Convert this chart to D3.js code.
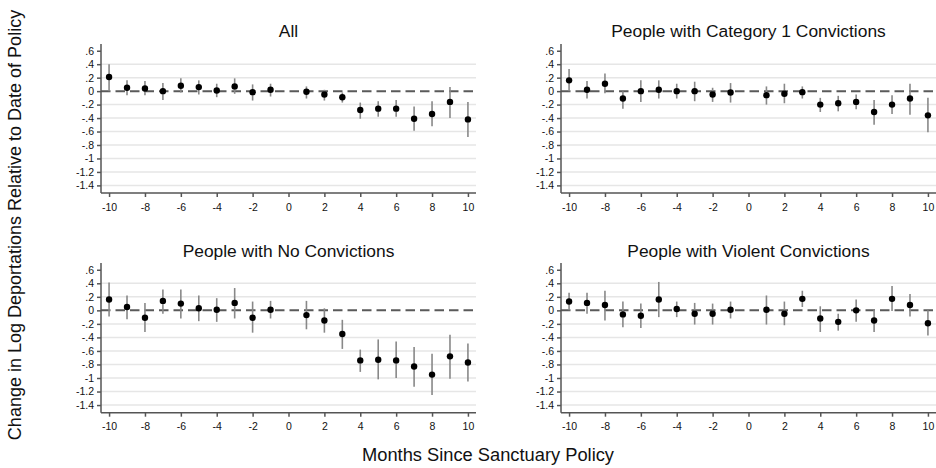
<!DOCTYPE html>
<html>
<head>
<meta charset="utf-8">
<script src="https://cdn.jsdelivr.net/npm/d3@7"></script>
<style>
  body { margin: 0; background: #fff; }
  svg { display: block; font-family: "Liberation Sans", Arial, sans-serif; }
  .grid line { stroke: #e6e6e6; stroke-width: 1.5; }
  .tick text { fill: #111; font-size: 10.5px; }
  .axis path, .axis line { stroke: #555; stroke-width: 1.5; }
</style>
</head>
<body>
<script>
const months = [-10, -9, -8, -7, -6, -5, -4, -3, -2, -1, 1, 2, 3, 4, 5, 6, 7, 8, 9, 10];
const yTicks = [0.6, 0.4, 0.2, 0, -0.2, -0.4, -0.6, -0.8, -1, -1.2, -1.4];
const xTicks = [-10, -8, -6, -4, -2, 0, 2, 4, 6, 8, 10];

const panelTitles = [
  'All',
  'People with Category 1 Convictions',
  'People with No Convictions',
  'People with Violent Convictions'
];

// point estimates
const allEst = [0.21, 0.05, 0.04, 0.0, 0.08, 0.06, 0.01, 0.07, -0.015, 0.02, -0.01, -0.05, -0.09, -0.28, -0.26, -0.26, -0.41, -0.34, -0.16, -0.42];
const cat1Est = [0.16, 0.02, 0.11, -0.11, 0.0, 0.02, 0.0, 0.0, -0.05, -0.02, -0.06, -0.04, -0.015, -0.20, -0.18, -0.16, -0.31, -0.20, -0.11, -0.36];
const noConvEst = [0.16, 0.05, -0.11, 0.14, 0.10, 0.03, 0.01, 0.11, -0.11, 0.01, -0.07, -0.15, -0.35, -0.74, -0.73, -0.74, -0.83, -0.95, -0.68, -0.77];
const violentEst = [0.13, 0.11, 0.08, -0.06, -0.08, 0.16, 0.02, -0.05, -0.05, 0.01, 0.01, -0.05, 0.17, -0.12, -0.17, 0.0, -0.15, 0.17, 0.08, -0.19];

// confidence intervals (upper, lower)
const allHi = [0.40, 0.16, 0.15, 0.12, 0.19, 0.16, 0.11, 0.19, 0.10, 0.11, 0.07, 0.02, -0.02, -0.17, -0.15, -0.13, -0.23, -0.15, 0.06, -0.16];
const allLo = [0.0, -0.06, -0.06, -0.13, -0.02, -0.05, -0.09, -0.04, -0.14, -0.08, -0.11, -0.14, -0.17, -0.41, -0.38, -0.38, -0.59, -0.52, -0.40, -0.68];
const cat1Hi = [0.33, 0.15, 0.26, 0.0, 0.16, 0.16, 0.11, 0.14, 0.05, 0.12, 0.07, 0.11, 0.07, -0.10, -0.07, -0.05, -0.13, -0.06, 0.11, -0.10];
const cat1Lo = [0.0, -0.11, -0.03, -0.26, -0.16, -0.11, -0.11, -0.15, -0.16, -0.17, -0.20, -0.18, -0.11, -0.31, -0.30, -0.27, -0.50, -0.34, -0.35, -0.61];
const noConvHi = [0.41, 0.22, 0.11, 0.31, 0.31, 0.22, 0.18, 0.33, 0.13, 0.14, 0.14, 0.03, -0.14, -0.58, -0.43, -0.46, -0.54, -0.64, -0.36, -0.49];
const noConvLo = [-0.09, -0.13, -0.32, -0.05, -0.12, -0.16, -0.17, -0.12, -0.33, -0.12, -0.28, -0.33, -0.57, -0.91, -1.02, -1.00, -1.13, -1.25, -1.01, -1.05];
const violentHi = [0.26, 0.26, 0.29, 0.13, 0.10, 0.42, 0.13, 0.11, 0.10, 0.13, 0.22, 0.13, 0.29, 0.06, -0.05, 0.16, 0.01, 0.36, 0.24, 0.0];
const violentLo = [0.0, -0.05, -0.15, -0.25, -0.26, -0.10, -0.10, -0.21, -0.21, -0.12, -0.21, -0.22, 0.05, -0.32, -0.30, -0.17, -0.32, -0.01, -0.09, -0.37];

const series = [
  [allEst, allHi, allLo],
  [cat1Est, cat1Hi, cat1Lo],
  [noConvEst, noConvHi, noConvLo],
  [violentEst, violentHi, violentLo]
];

const width = 936, height = 468;
const svg = d3.select('body').append('svg')
  .attr('width', width)
  .attr('height', height);

// plot boxes: left/right of x axis, top/bottom of y axis, title baseline
const boxes = [
  {x0: 101, x1: 476, y0: 44, y1: 193, ty: 37},
  {x0: 561, x1: 936, y0: 44, y1: 193, ty: 37},
  {x0: 101, x1: 476, y0: 263, y1: 412.7, ty: 257},
  {x0: 561, x1: 936, y0: 263, y1: 412.7, ty: 257}
];

// stata style labels: .6, -.2, -1.4 with a plain hyphen
function fmt(v) {
  if (v === 0) return '0';
  const s = Math.abs(v).toFixed(1).replace(/^0\./, '.').replace(/\.0$/, '');
  return (v < 0 ? '-' : '') + s;
}

function drawPanel(box, title, [est, hi, lo]) {
  const g = svg.append('g');
  const x = d3.scaleLinear().domain([-10.45, 10.45]).range([box.x0, box.x1]);
  const y = d3.scaleLinear().domain([-1.513, 0.70]).range([box.y1, box.y0]);

  g.append('g').attr('class', 'grid')
    .selectAll('line')
    .data(yTicks.filter(t => t !== 0 && t < 0.5))
    .join('line')
    .attr('x1', box.x0).attr('x2', box.x1)
    .attr('y1', d => y(d)).attr('y2', d => y(d));

  g.append('line')
    .attr('x1', box.x0).attr('x2', box.x1)
    .attr('y1', y(0)).attr('y2', y(0))
    .attr('stroke', '#5a5a5a')
    .attr('stroke-width', 2)
    .attr('stroke-dasharray', '9.5,5');

  g.append('g').attr('class', 'axis')
    .attr('transform', `translate(${box.x0},0)`)
    .call(d3.axisLeft(y).tickValues(yTicks).tickSize(4).tickSizeOuter(0).tickFormat(fmt))
    .call(a => a.select('.domain').attr('d', `M0,${box.y0}V${box.y1}`));

  g.append('g').attr('class', 'axis')
    .attr('transform', `translate(0,${box.y1})`)
    .call(d3.axisBottom(x).tickValues(xTicks).tickSize(4).tickSizeOuter(0).tickFormat(fmt))
    .call(a => a.select('.domain').attr('d', `M${box.x0},0H${box.x1}`))
    .call(a => a.selectAll('.tick text').attr('dy', '1.0em'));

  g.selectAll('.tick text').attr('font-family', null).attr('font-size', null);

  g.append('g')
    .selectAll('line')
    .data(months)
    .join('line')
    .attr('x1', d => x(d)).attr('x2', d => x(d))
    .attr('y1', (d, i) => y(hi[i])).attr('y2', (d, i) => y(lo[i]))
    .attr('stroke', '#888')
    .attr('stroke-width', 1.6);

  g.append('g')
    .selectAll('circle')
    .data(months)
    .join('circle')
    .attr('cx', d => x(d))
    .attr('cy', (d, i) => y(est[i]))
    .attr('r', 3.2)
    .attr('fill', '#000');

  g.append('text')
    .attr('x', (box.x0 + box.x1) / 2)
    .attr('y', box.ty)
    .attr('text-anchor', 'middle')
    .attr('font-size', 17.4)
    .attr('fill', '#111')
    .text(title);
}

boxes.forEach((b, i) => drawPanel(b, panelTitles[i], series[i]));

svg.append('text')
  .attr('transform', 'translate(21,225) rotate(-90)')
  .attr('text-anchor', 'middle')
  .attr('font-size', 18)
  .attr('fill', '#111')
  .text('Change in Log Deportations Relative to Date of Policy');

svg.append('text')
  .attr('x', 488)
  .attr('y', 461)
  .attr('text-anchor', 'middle')
  .attr('font-size', 18.3)
  .attr('fill', '#111')
  .text('Months Since Sanctuary Policy');
</script>
</body>
</html>
